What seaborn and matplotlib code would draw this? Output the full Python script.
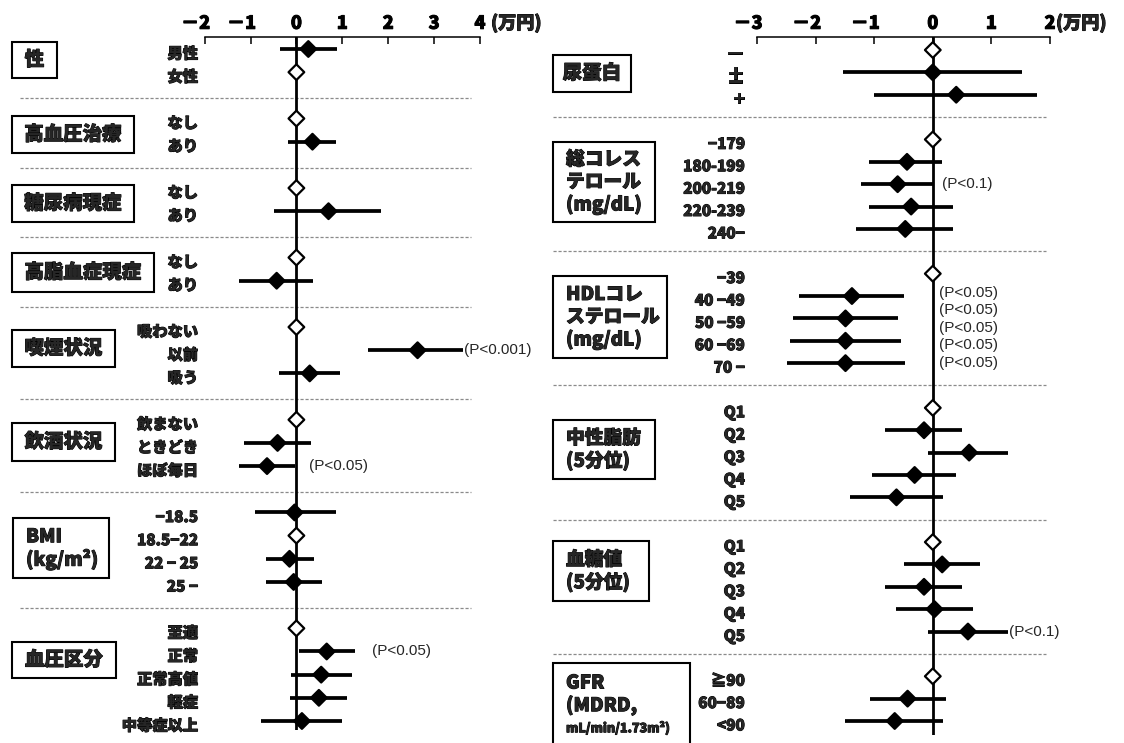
import numpy as np
import pandas as pd
import matplotlib
matplotlib.use("Agg")
import matplotlib.pyplot as plt
import matplotlib.transforms as mtrans
import matplotlib.patheffects as pe
from matplotlib.patches import Rectangle
import seaborn as sns

sns.set_theme(style="white")
plt.rcParams['font.family'] = ['Noto Sans CJK JP', 'DejaVu Sans']
nan = np.nan

# ---------------- data : left panel ----------------
left_groups = ["性", "高血圧治療", "糖尿病現症", "高脂血症現症", "喫煙状況", "飲酒状況",
               "BMI\n(kg/m²)", "血圧区分"]
left_sizes = [2, 2, 2, 2, 3, 3, 4, 5]
left_labels = ["男性", "女性", "なし", "あり", "なし", "あり", "なし", "あり",
               "吸わない", "以前", "吸う", "飲まない", "ときどき", "ほぼ毎日",
               "−18.5", "18.5−22", "22 − 25", "25 −",
               "至適", "正常", "正常高値", "軽症", "中等症以上"]
left_est = [0.26, 0, 0, 0.35, 0, 0.70, 0, -0.43, 0, 2.64, 0.29, 0, -0.41, -0.64,
            -0.04, 0, -0.15, -0.06, 0, 0.66, 0.54, 0.49, 0.12]
left_lo = [-0.36, nan, nan, -0.18, nan, -0.49, nan, -1.24, nan, 1.56, -0.37, nan, -1.14, -1.26,
           -0.91, nan, -0.66, -0.66, nan, 0.06, -0.12, -0.14, -0.77]
left_hi = [0.88, nan, nan, 0.86, nan, 1.85, nan, 0.37, nan, 3.64, 0.94, nan, 0.32, -0.02,
           0.86, nan, 0.39, 0.56, nan, 1.27, 1.21, 1.10, 1.00]
left_ticks = [-2, -1, 0, 1, 2, 3, 4]
left_p_index = [9, 13, 19]
left_p_text = ["(P<0.001)", "(P<0.05)", "(P<0.05)"]

# ---------------- data : right panel ----------------
right_groups = ["尿蛋白", "総コレス\nテロール\n(mg/dL)", "HDLコレ\nステロール\n(mg/dL)",
                "中性脂肪\n(5分位)", "血糖値\n(5分位)", "GFR\n(MDRD,\nmL/min/1.73m²)"]
right_sizes = [3, 5, 5, 5, 5, 3]
right_labels = ["－", "±", "+", "−179", "180-199", "200-219", "220-239", "240−",
                "−39", "40 −49", "50 −59", "60 −69", "70 −",
                "Q1", "Q2", "Q3", "Q4", "Q5", "Q1", "Q2", "Q3", "Q4", "Q5",
                "≧90", "60−89", "<90"]
right_est = [0, 0.0, 0.40, 0, -0.44, -0.60, -0.37, -0.47, 0, -1.38, -1.49, -1.49, -1.49,
             0, -0.15, 0.62, -0.31, -0.62, 0, 0.16, -0.15, 0.03, 0.60, 0, -0.43, -0.65]
right_lo = [nan, -1.54, -1.01, nan, -1.09, -1.22, -1.09, -1.31, nan, -2.28, -2.38, -2.44, -2.49,
            nan, -0.82, -0.08, -1.04, -1.41, nan, -0.50, -0.81, -0.63, -0.08, nan, -1.08, -1.49]
right_hi = [nan, 1.53, 1.78, nan, 0.15, 0.02, 0.34, 0.35, nan, -0.50, -0.60, -0.54, -0.48,
            nan, 0.50, 1.29, 0.40, 0.18, nan, 0.81, 0.50, 0.69, 1.28, nan, 0.22, 0.18]
right_ticks = [-3, -2, -1, 0, 1, 2]
right_p_index = [5, 9, 9, 9, 9, 9, 22]
right_p_text = ["(P<0.1)", "(P<0.05)", "(P<0.05)", "(P<0.05)", "(P<0.05)", "(P<0.05)", "(P<0.1)"]

# ---------------- layout ----------------
W, H = 1124, 743
fig = plt.figure(figsize=(W / 100, H / 100), dpi=100)
fig.patch.set_facecolor("white")

CJK = ['Noto Sans CJK JP', 'DejaVu Sans']
LAT = ['Liberation Sans', 'DejaVu Sans']
HEAVY = 900
THICK = [pe.withStroke(linewidth=0.7, foreground="black")]


def row_positions(sizes):
    ys, seps = [], []
    pos = 0
    for n in sizes:
        ys.extend(range(pos, pos + n))
        pos += n
        seps.append(pos)
        pos += 1
    return np.array(ys, float), seps[:-1]


def tick_text(t):
    if t < 0:
        return "－" + str(-t) + "\u3000"
    return str(t)


def draw_panel(cfg):
    x0, x1, top, bot, row0, rowN = cfg["px"]
    ax = fig.add_axes([x0 / W, 1 - bot / H, (x1 - x0) / W, (bot - top) / H])
    ax.patch.set_visible(False)
    ys, seps = row_positions(cfg["sizes"])
    nrows = ys.max()
    scale = (rowN - row0) / nrows
    df = pd.DataFrame(dict(y=ys, est=cfg["est"], lo=cfg["lo"], hi=cfg["hi"], label=cfg["labels"]))
    df["kind"] = np.where(df["lo"].isna(), "ref", "est")

    ax.axvline(0, color="black", lw=2.0, zorder=2)
    ci = df[df.kind == "est"]
    ax.hlines(ci.y, ci.lo, ci.hi, color="black", lw=2.7, zorder=3)
    sns.scatterplot(data=df, x="est", y="y", hue="kind", palette={"est": "black", "ref": "white"},
                    marker="D", s=64, edgecolor="black", linewidth=1.6, legend=False, ax=ax, zorder=4)

    ax.set_xlim(cfg["ticks"][0], cfg["ticks"][-1])
    ax.set_ylim(nrows + (bot - rowN) / scale, -(row0 - top) / scale)
    ax.set_xlabel("")
    ax.set_ylabel("")
    ax.set_yticks([])
    for s in ["left", "right", "bottom"]:
        ax.spines[s].set_visible(False)
    ax.spines["top"].set_visible(True)
    ax.spines["top"].set_linewidth(1.1)
    ax.spines["top"].set_color("black")
    ax.xaxis.set_ticks_position("top")
    ax.set_xticks(cfg["ticks"])
    ax.set_xticklabels([tick_text(t) for t in cfg["ticks"]], fontsize=13, fontweight=HEAVY,
                       family=CJK)
    for tl in ax.get_xticklabels():
        tl.set_path_effects(THICK)
    ax.tick_params(axis="x", direction="in", length=5, width=1.1, pad=3, colors="black",
                   top=True, bottom=False, labeltop=True, labelbottom=False)
    ax.annotate("(万円)", xy=(cfg["ticks"][-1], 1), xycoords=("data", "axes fraction"),
                xytext=(cfg["unit_dx"], 14), textcoords="offset pixels", ha="left", va="center",
                fontsize=13, fontweight=HEAVY, family=CJK, annotation_clip=False,
                path_effects=THICK)

    trans = mtrans.blended_transform_factory(fig.transFigure, ax.transData)
    # item labels
    for y, lab in zip(df.y, df.label):
        fs = 14 if lab in ("－", "±", "+") else 11
        ax.text(cfg["label_x"] / W, y + 0.22, lab, transform=trans, ha="right", va="center",
                fontsize=fs, fontweight=HEAVY, family=CJK, clip_on=False, path_effects=THICK)
    # separators
    for s in seps:
        ax.plot([cfg["sep_x"][0] / W, cfg["sep_x"][1] / W], [s + cfg["sep_off"]] * 2,
                transform=trans, color="#8a8a8a", lw=0.9, ls=(0, (2.5, 1.5)), clip_on=False,
                zorder=1)
    # p-value notes
    for k, (i, txt) in enumerate(zip(cfg["p_index"], cfg["p_text"])):
        px, dy = cfg["p_pos"][k]
        xx = df.hi[i] + 0.02 if px is None else px
        ax.text(xx, df.y[i] + dy, txt, ha="left", va="center", fontsize=11, family=LAT,
                clip_on=False, zorder=5)
    # group boxes
    for (bx0, by0, bx1, by1), name in zip(cfg["boxes"], cfg["groups"]):
        fig.add_artist(Rectangle((bx0 / W, 1 - by1 / H), (bx1 - bx0) / W, (by1 - by0) / H,
                                 transform=fig.transFigure, fill=False, lw=1.5, ec="black"))
        lines = name.split("\n")
        yc = (by0 + by1) / 2
        if len(lines) == 1:
            fig.text((bx0 + bx1) / 2 / W, 1 - yc / H, name, ha="center", va="center",
                     fontsize=14, fontweight=HEAVY, family=CJK, path_effects=THICK)
        else:
            for j, ln in enumerate(lines):
                yy = yc + (j - (len(lines) - 1) / 2) * 22.5
                fs = 9 if len(ln) > 10 else 13.5
                fig.text((bx0 + 13) / W, 1 - yy / H, ln, ha="left", va="center",
                         fontsize=fs, fontweight=HEAVY, family=CJK, path_effects=THICK)
    return ax


hdl_step = 0.78
left_cfg = dict(px=(204.6, 480, 37, 730, 49, 721), sizes=left_sizes, est=left_est, lo=left_lo,
                hi=left_hi, labels=left_labels, ticks=left_ticks, unit_dx=11, label_x=198,
                sep_x=(20, 471), sep_off=0.12, p_index=left_p_index, p_text=left_p_text,
                p_pos=[(None, 0.0), (0.27, 0.0), (1.64, 0.0)],
                boxes=[(12, 42, 57, 78), (12, 116, 134, 153), (12, 185, 134, 222),
                       (12, 253, 154, 292), (12, 330, 115, 367), (12, 423, 115, 461),
                       (13, 518, 109, 578), (12, 642, 116, 678)],
                groups=left_groups)

right_cfg = dict(px=(757, 1050, 37, 735, 50, 721), sizes=right_sizes, est=right_est, lo=right_lo,
                 hi=right_hi, labels=right_labels, ticks=right_ticks, unit_dx=6, label_x=745,
                 sep_x=(553, 1046), sep_off=0.0, p_index=right_p_index, p_text=right_p_text,
                 p_pos=[(0.15, 0.0)] + [(0.1, -0.14 + k * hdl_step) for k in range(5)] + [(None, 0.0)],
                 boxes=[(553, 55, 631, 92), (553, 142, 655, 222), (553, 276, 667, 358),
                        (553, 420, 655, 479), (553, 541, 649, 601), (553, 663, 690, 748)],
                 groups=right_groups)

draw_panel(left_cfg)
draw_panel(right_cfg)

fig.savefig("out.png", dpi=100, facecolor="white")
